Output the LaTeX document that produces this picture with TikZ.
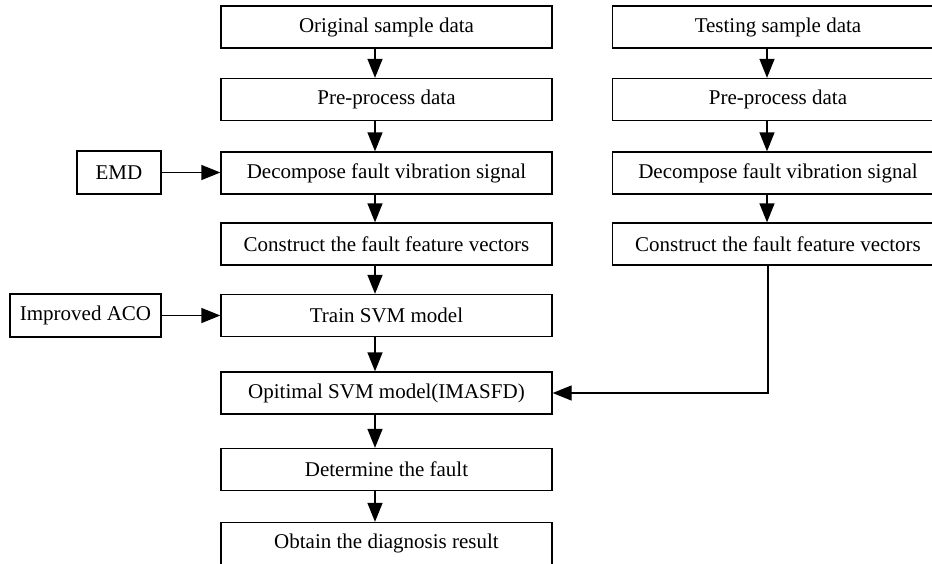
\documentclass[tikz,border=0pt]{standalone}
\usepackage{fontspec}
\setmainfont{Liberation Serif}
\usetikzlibrary{arrows.meta}
\begin{document}
\begin{tikzpicture}[x=1pt,y=-1pt,
 box/.style={draw, line width=1.3pt, minimum width=331pt, minimum height=42pt, inner sep=0pt, font=\fontsize{21}{24}\selectfont},
 sidebox/.style={draw, line width=1.3pt, minimum height=43pt, inner sep=0pt, font=\fontsize{21}{24}\selectfont},
 arr/.style={line width=1.3pt, -{Triangle[length=19pt,width=15pt]}}]
\useasboundingbox (0,0) rectangle (932,563);
\clip (0,0) rectangle (932,563);
% left column
\node[box] (a1) at (386.5,27) {Original sample data};
\node[box] (a2) at (386.5,99.5) {Pre-process data};
\node[box] (a3) at (386.5,173) {Decompose fault vibration signal};
\node[box] (a4) at (386.5,244) {Construct the fault feature vectors};
\node[box] (a5) at (386.5,315.5) {Train SVM model};
\node[box] (a6) at (386.5,393) {Opitimal SVM model(IMASFD)};
\node[box] (a7) at (386.5,469.5) {Determine the fault};
\node[box] (a8) at (386.5,543.5) {Obtain the diagnosis result};
% right column
\node[box] (b1) at (778,27) {Testing sample data};
\node[box] (b2) at (778,99.5) {Pre-process data};
\node[box] (b3) at (778,173) {Decompose fault vibration signal};
\node[box] (b4) at (778,244) {Construct the fault feature vectors};
% side boxes
\node[sidebox, minimum width=84pt] (emd) at (119,172.5) {EMD};
\node[sidebox, minimum width=151pt] (aco) at (85.5,315.5) {Improved ACO};
% arrows left column
\foreach \u/\v in {a1/a2,a2/a3,a3/a4,a4/a5,a5/a6,a6/a7,a7/a8}{
  \draw[arr] ([xshift=-11.5pt]\u.south) -- ([xshift=-11.5pt]\v.north);
}
\foreach \u/\v in {b1/b2,b2/b3,b3/b4}{
  \draw[arr] ([xshift=-11pt]\u.south) -- ([xshift=-11pt]\v.north);
}
\draw[arr] (emd.east) -- (emd.east -| a3.west);
\draw[arr] (aco.east) -- (aco.east -| a5.west);
\draw[arr] ([xshift=-10pt]b4.south) |- (a6.east);
\end{tikzpicture}
\end{document}
